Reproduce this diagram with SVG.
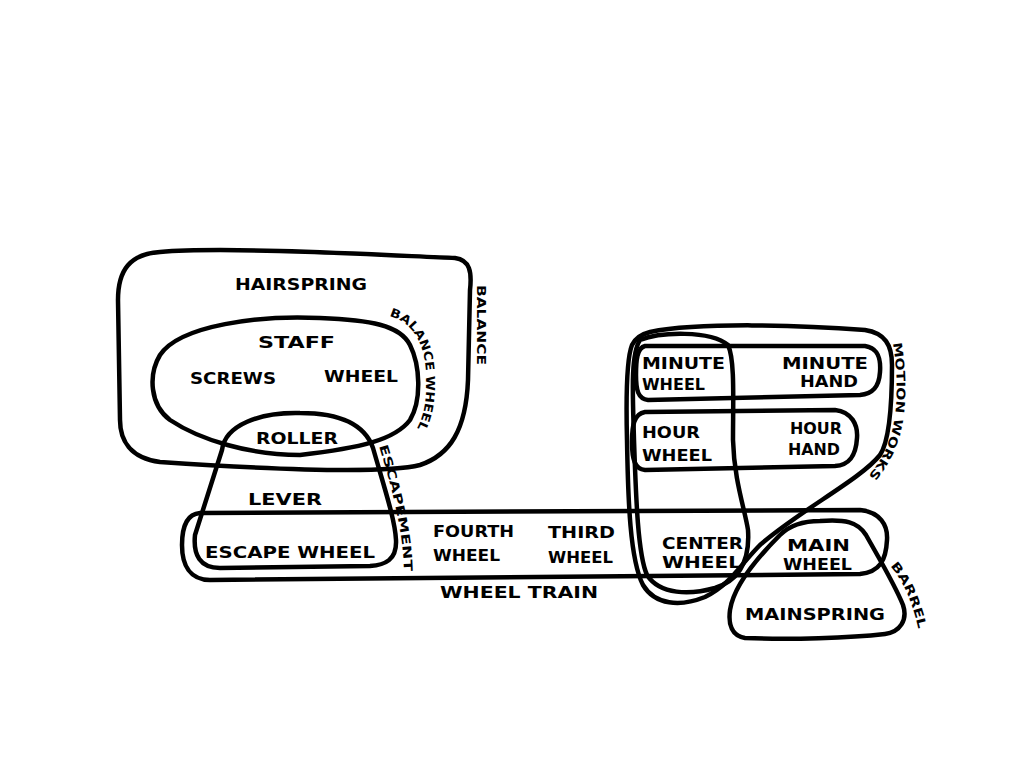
<svg xmlns="http://www.w3.org/2000/svg" width="1024" height="768" viewBox="0 0 1024 768">
<style>
.s{fill:none;stroke:#000;stroke-width:4.5;stroke-linecap:round;stroke-linejoin:round}
.t{font-family:"DejaVu Sans","Liberation Sans",sans-serif;font-size:15px;fill:#000;font-weight:bold}
.r{font-family:"DejaVu Sans","Liberation Sans",sans-serif;font-size:12px;fill:#000;font-weight:bold}
</style>
<defs>
<path id="pBW" d="M 389,316 C 412,322 424,342 426,372 C 428,405 422,430 402,446"/>
<path id="pESC" d="M 379,446 C 388,475 396,505 400,530 C 403,550 404,562 404,575"/>
<path id="pMW" d="M 893,343 C 899,380 898,420 887,446 C 880,462 872,472 862,484"/>
<path id="pBAR" d="M 890,566 C 903,580 914,605 920,636"/>
</defs>
<rect width="1024" height="768" fill="#fff"/>
<g id="connectors"></g>
<g id="balance">
<path class="s" d="M 160,252 C 230,246 400,256 455,258 C 470,260 472,272 470,290 L 468,380 C 466,430 450,455 420,465 C 380,475 250,468 160,462 C 130,458 120,440 120,420 L 118,300 C 118,270 130,254 160,252 Z"/>
<text class="t" x="235" y="290" textLength="132" lengthAdjust="spacingAndGlyphs">HAIRSPRING</text>
<text class="r" transform="translate(477,285) rotate(90)" textLength="80" lengthAdjust="spacingAndGlyphs">BALANCE</text>
</g>
<g id="balance-wheel">
<path class="s" d="M 160,355 C 180,325 260,315 320,318 C 370,320 400,325 410,345 C 420,365 422,400 410,420 C 395,440 360,448 300,455 C 250,455 200,440 170,420 C 150,405 148,375 160,355 Z"/>
<text class="t" x="258" y="348" textLength="77" lengthAdjust="spacingAndGlyphs">STAFF</text>
<text class="t" x="190" y="384" textLength="86" lengthAdjust="spacingAndGlyphs">SCREWS</text>
<text class="t" x="324" y="382" textLength="74" lengthAdjust="spacingAndGlyphs">WHEEL</text>
<text class="r"><textPath href="#pBW" textLength="130" lengthAdjust="spacingAndGlyphs">BALANCE  WHEEL</textPath></text>
</g>
<g id="escapement">
<path class="s" d="M 222,450 C 225,425 260,412 300,413 C 340,413 365,425 373,448 C 385,490 395,520 396,540 C 397,560 385,565 370,566 L 220,568 C 200,568 193,555 195,535 L 222,450 Z"/>
<text class="t" x="256" y="444" textLength="82" lengthAdjust="spacingAndGlyphs">ROLLER</text>
<text class="t" x="248" y="505" textLength="74" lengthAdjust="spacingAndGlyphs">LEVER</text>
<text class="t" x="205" y="558" textLength="170" lengthAdjust="spacingAndGlyphs">ESCAPE  WHEEL</text>
<text class="r"><textPath href="#pESC" textLength="128" lengthAdjust="spacingAndGlyphs">ESCAPEMENT</textPath></text>
</g>
<g id="wheel-train">
<path class="s" d="M 200,513 L 860,510 C 880,512 888,525 887,540 C 886,560 880,572 860,574 L 210,580 C 190,580 182,565 182,545 C 182,525 188,514 200,513 Z"/>
<text class="t" x="433" y="537" textLength="81" lengthAdjust="spacingAndGlyphs">FOURTH</text>
<text class="t" x="433" y="561" textLength="67" lengthAdjust="spacingAndGlyphs">WHEEL</text>
<text class="t" x="548" y="538" textLength="67" lengthAdjust="spacingAndGlyphs">THIRD</text>
<text class="t" x="548" y="563" textLength="65" lengthAdjust="spacingAndGlyphs">WHEEL</text>
<text class="t" x="440" y="598" textLength="158" lengthAdjust="spacingAndGlyphs">WHEEL  TRAIN</text>
</g>
<g id="motion-works">
<path class="s" d="M 650,332 C 700,322 800,325 865,330 C 885,333 892,345 892,365 C 892,400 890,440 880,455 C 860,480 800,510 760,545 C 740,565 730,585 705,597 C 680,607 655,605 643,585 C 630,560 628,500 627,440 C 626,400 626,360 632,345 C 636,337 642,334 650,332 Z"/>
<text class="r"><textPath href="#pMW" textLength="140" lengthAdjust="spacingAndGlyphs">MOTION  WORKS</textPath></text>
</g>
<g id="center-wheel">
<path class="s" d="M 640,340 C 660,332 710,330 728,345 C 735,360 733,400 733,440 C 734,480 745,510 748,530 C 750,560 740,580 715,588 C 690,595 660,595 647,575 C 638,555 636,500 634,440 C 633,400 630,355 640,340 Z"/>
<text class="t" x="662" y="549" textLength="81" lengthAdjust="spacingAndGlyphs">CENTER</text>
<text class="t" x="662" y="568" textLength="79" lengthAdjust="spacingAndGlyphs">WHEEL</text>
</g>
<g id="minute">
<path class="s" d="M 645,346 L 865,346 C 878,348 881,358 880,372 C 879,388 872,394 860,395 L 648,400 C 638,399 636,390 636,375 C 636,360 637,348 645,346 Z"/>
<text class="t" x="642" y="369" textLength="83" lengthAdjust="spacingAndGlyphs">MINUTE</text>
<text class="t" x="642" y="390" textLength="63" lengthAdjust="spacingAndGlyphs">WHEEL</text>
<text class="t" x="782" y="369" textLength="86" lengthAdjust="spacingAndGlyphs">MINUTE</text>
<text class="t" x="800" y="387" textLength="58" lengthAdjust="spacingAndGlyphs">HAND</text>
</g>
<g id="hour">
<path class="s" d="M 645,412 L 835,410 C 852,412 858,425 857,438 C 856,455 850,465 835,466 L 645,470 C 635,469 632,460 632,442 C 632,425 634,414 645,412 Z"/>
<text class="t" x="642" y="438" textLength="58" lengthAdjust="spacingAndGlyphs">HOUR</text>
<text class="t" x="642" y="461" textLength="70" lengthAdjust="spacingAndGlyphs">WHEEL</text>
<text class="t" x="790" y="434" textLength="52" lengthAdjust="spacingAndGlyphs">HOUR</text>
<text class="t" x="788" y="455" textLength="52" lengthAdjust="spacingAndGlyphs">HAND</text>
</g>
<g id="barrel">
<path class="s" d="M 820,521 C 845,519 858,522 866,535 C 880,560 895,585 903,605 C 908,620 900,632 885,634 C 850,638 790,640 745,638 C 732,636 728,625 730,610 C 733,590 750,565 780,535 C 790,525 805,521 820,521 Z"/>
<text class="t" x="787" y="551" textLength="63" lengthAdjust="spacingAndGlyphs">MAIN</text>
<text class="t" x="783" y="570" textLength="69" lengthAdjust="spacingAndGlyphs">WHEEL</text>
<text class="t" x="745" y="620" textLength="140" lengthAdjust="spacingAndGlyphs">MAINSPRING</text>
<text class="r"><textPath href="#pBAR" textLength="70" lengthAdjust="spacingAndGlyphs">BARREL</textPath></text>
</g>
</svg>
